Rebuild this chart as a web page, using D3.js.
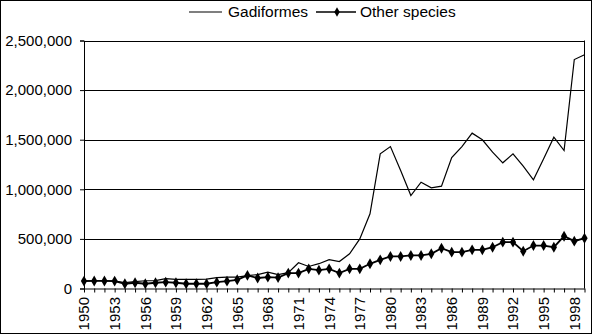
<!DOCTYPE html>
<html><head><meta charset="utf-8">
<script src="https://cdn.jsdelivr.net/npm/d3@7"></script>
<style>
html,body{margin:0;padding:0;background:#fff;}
text{font-family:Arial,"Liberation Sans",sans-serif;fill:#000;}
</style></head>
<body>
<svg id="chart" width="592" height="334"></svg>
<script>
const years = [1950,1951,1952,1953,1954,1955,1956,1957,1958,1959,
  1960,1961,1962,1963,1964,1965,1966,1967,1968,1969,
  1970,1971,1972,1973,1974,1975,1976,1977,1978,1979,
  1980,1981,1982,1983,1984,1985,1986,1987,1988,1989,
  1990,1991,1992,1993,1994,1995,1996,1997,1998,1999];
const gadiformes = [78000,78000,78000,75000,60000,70000,78000,80000,100000,92000,
  92000,92000,95000,110000,115000,115000,130000,140000,165000,140000,
  160000,260000,222000,250000,290000,272000,350000,500000,753000,1358000,
  1431000,1190000,937000,1072000,1015000,1032000,1320000,1431000,1566000,1499000,
  1374000,1267000,1358000,1233000,1096000,1307000,1525000,1391000,2308000,2356000];
const otherSpecies = [75000,76000,76000,75000,48000,58000,48000,58000,64000,58000,
  48000,48000,48000,64000,74000,88000,132000,106000,114000,110000,
  155000,155000,198000,185000,198000,155000,198000,198000,249000,289000,
  323000,323000,333000,333000,350000,406000,366000,366000,390000,390000,
  416000,467000,467000,376000,433000,433000,416000,527000,477000,507000];
const yTicks = [0,500000,1000000,1500000,2000000,2500000];
const xLabelYears = [1950,1953,1956,1959,1962,1965,1968,1971,1974,1977,1980,1983,1986,1989,1992,1995,1998];
const seriesNames = ["Gadiformes","Other species"];

const svg = d3.select("#chart");
const W = 592, H = 334;
const mLeft = 84, mRight = 584.5, mTop = 40.5, mBottom = 288.5;

svg.append("rect").attr("x",0.5).attr("y",0.5).attr("width",W-1).attr("height",H-1)
  .attr("fill","#fff").attr("stroke","#000").attr("stroke-width",1);

const x = d3.scalePoint().domain(years).range([mLeft, mRight]);
const y = d3.scaleLinear().domain([0,2500000]).range([mBottom, mTop]);

// gridlines
svg.append("g").selectAll("line").data(yTicks.filter(d=>d>0)).join("line")
  .attr("x1",mLeft).attr("x2",mRight)
  .attr("y1",d=>Math.round(y(d))+0.5).attr("y2",d=>Math.round(y(d))+0.5)
  .attr("stroke","#000").attr("stroke-width",1);
// plot right border
svg.append("line").attr("x1",mRight).attr("x2",mRight).attr("y1",mTop).attr("y2",mBottom)
  .attr("stroke","#000");

// y axis
const yAxis = d3.axisLeft(y).tickValues(yTicks).tickSize(4).tickPadding(8)
  .tickFormat(d3.format(","));
const gy = svg.append("g").attr("transform",`translate(${mLeft},0)`).call(yAxis);
gy.selectAll("text").style("font-size","15px");
gy.selectAll("line,path").attr("stroke","#000");

// x axis
const xAxis = d3.axisBottom(x).tickSize(4).tickSizeOuter(0).tickFormat("");
const gx = svg.append("g").attr("transform",`translate(0,${mBottom})`).call(xAxis);
gx.selectAll("line,path").attr("stroke","#000");
svg.append("g").selectAll("text").data(xLabelYears).join("text")
  .attr("transform",d=>`translate(${x(d)},297) rotate(-90)`)
  .attr("text-anchor","end").attr("dy","0.36em")
  .style("font-size","15px").text(d=>d);

// lines
const lineG = d3.line().x((d,i)=>x(years[i])).y(d=>y(d));
svg.append("path").datum(gadiformes).attr("d",lineG)
  .attr("fill","none").attr("stroke","#000").attr("stroke-width",1.2);
svg.append("path").datum(otherSpecies).attr("d",lineG)
  .attr("fill","none").attr("stroke","#000").attr("stroke-width",1.8);
const diamond = d3.symbol().type(d3.symbolDiamond).size(34);
svg.append("g").selectAll("path").data(otherSpecies).join("path")
  .attr("transform",(d,i)=>`translate(${x(years[i])},${y(d)})`)
  .attr("d",diamond).attr("fill","#000");

// legend
const leg = svg.append("g");
leg.append("line").attr("x1",189).attr("x2",222).attr("y1",12).attr("y2",12)
  .attr("stroke","#000").attr("stroke-width",1.2);
leg.append("text").attr("x",228).attr("y",17).style("font-size","15.5px").text(seriesNames[0]);
leg.append("line").attr("x1",316).attr("x2",356).attr("y1",12).attr("y2",12)
  .attr("stroke","#000").attr("stroke-width",1.5);
leg.append("path").attr("transform","translate(337,12)")
  .attr("d",d3.symbol().type(d3.symbolDiamond).size(26)).attr("fill","#000");
leg.append("text").attr("x",360).attr("y",17).style("font-size","15.5px").text(seriesNames[1]);
</script>
</body></html>
